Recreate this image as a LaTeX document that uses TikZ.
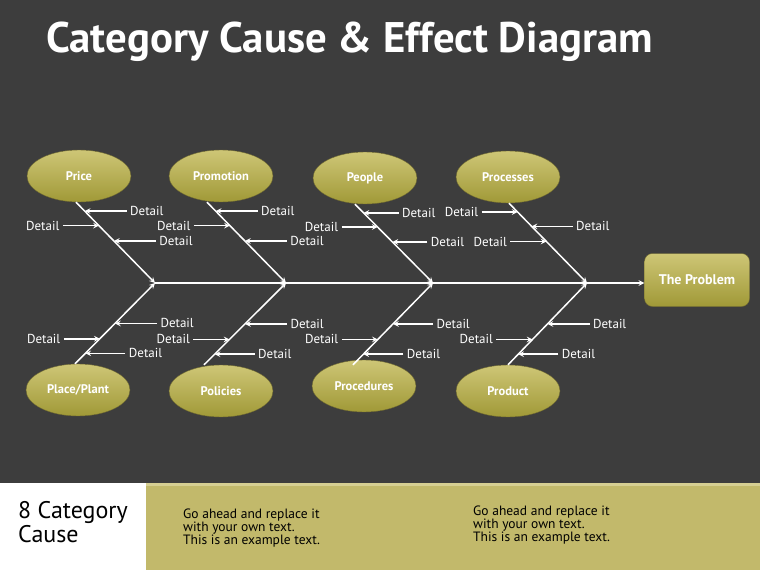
\documentclass[tikz,border=0pt]{standalone}
\usepackage{fontspec}
\setmainfont{PT Sans}
\usetikzlibrary{arrows, positioning, shapes.geometric}
\definecolor{bgdark}{HTML}{3D3D3D}
\definecolor{oliveband}{HTML}{C2B96B}
\definecolor{olivelite}{HTML}{D6CF93}
\definecolor{olivetop}{HTML}{CEC676}
\definecolor{olivebot}{HTML}{A09937}
\definecolor{oliverim}{HTML}{6E6830}

\begin{document}
\begin{tikzpicture}[x=1pt,y=-1pt,>=stealth,node distance=36pt,
 every node/.style={font=\fontsize{13}{15}\selectfont,text=white},
 cat/.style={ellipse,draw=oliverim,top color=olivetop,bottom color=olivebot,
   minimum width=104pt,minimum height=52pt,inner sep=0pt,
   font=\fontsize{12.5}{14}\selectfont\bfseries},
 prob/.style={rectangle,rounded corners=8pt,draw=oliverim,top color=olivetop,
   bottom color=olivebot,minimum width=105pt,minimum height=53pt,
   font=\fontsize{14}{16}\selectfont\bfseries},
 bone/.style={->,draw=white,line width=1.5pt},
 det/.style={->,draw=white,line width=1.5pt},
 note/.style={text=black,align=left,anchor=north west,inner sep=0pt}]
 \useasboundingbox (0,0) rectangle (760,570);
 \fill[bgdark] (0,0) rectangle (760,570);
 \fill[white] (0,483) rectangle (146,570);
 \fill[oliveband] (146,483) rectangle (760,570);
 \fill[olivelite] (146,483) rectangle (760,486);
 \node[anchor=base west,inner sep=0pt,font=\fontsize{42.8}{46}\selectfont\bfseries]
   (title) at (46,52) {Category Cause \& Effect Diagram};
 % categories
 \node[cat] (price) at (79,176) {Price};
 \node[cat] (promo) at (221,176) {Promotion};
 \node[cat] (people) at (365,178) {People};
 \node[cat] (procs) at (508,177) {Processes};
 \node[cat] (place) at (78,390) {Place/Plant};
 \node[cat] (polic) at (221,391) {Policies};
 \node[cat] (proced) at (364,386) {Procedures};
 \node[cat] (prod) at (508,391) {Product};
 \node[prob] (prob) at (697,280) {The Problem};
 % spine
 \coordinate (j1) at (155,283);
 \coordinate (j2) at (286,283);
 \coordinate (j3) at (433,283);
 \coordinate (j4) at (587,283);
 \draw[bone] (j1) -- (j1 -| prob.west);
 % bones
 \foreach \c/\dx/\j in {price/-3/j1,promo/-14/j2,people/-10/j3,procs/1/j4}
   \draw[bone] ([xshift=\dx pt]\c.south) -- (\j)
     coordinate[pos=.11] (\c1) coordinate[pos=.29] (\c2) coordinate[pos=.48] (\c3);
 \foreach \c/\dx/\dy/\j in {place/-3/0/j1,polic/-17/0/j2,proced/-11/-5/j3,prod/0/0/j4}
   \draw[bone] ([xshift=\dx pt,yshift=\dy pt]\c.north) -- (\j)
     coordinate[pos=.13] (\c1) coordinate[pos=.31] (\c2) coordinate[pos=.50] (\c3);
 % details
 \foreach \p/\d in {price1/42,price3/42,promo1/42,promo3/42,people1/35,people3/35,
   procs2/41,place1/40,place3/42,polic1/40,polic3/42,proced1/40,proced3/40,
   prod1/40,prod3/42}{
   \node[right=\d pt of \p] (d\p) {Detail};
   \draw[det] (d\p) -- (\p);
 }
 \foreach \p in {price2,promo2,people2,procs1,procs3,place2,polic2,proced2,prod2}{
   \node[left=of \p] (d\p) {Detail};
   \draw[det] (d\p) -- (\p);
 }
 % footer
 \node[note,font=\fontsize{24}{24}\selectfont] (cause) at (18,501) {8 Category\\Cause};
 \node[note,font=\fontsize{13.5}{13}\selectfont] (txta) at (183,509)
   {Go ahead and replace it\\with your own text.\\This is an example text.};
 \node[note,font=\fontsize{13.5}{13}\selectfont] (txtb) at (473,506)
   {Go ahead and replace it\\with your own text.\\This is an example text.};
\end{tikzpicture}
\end{document}
